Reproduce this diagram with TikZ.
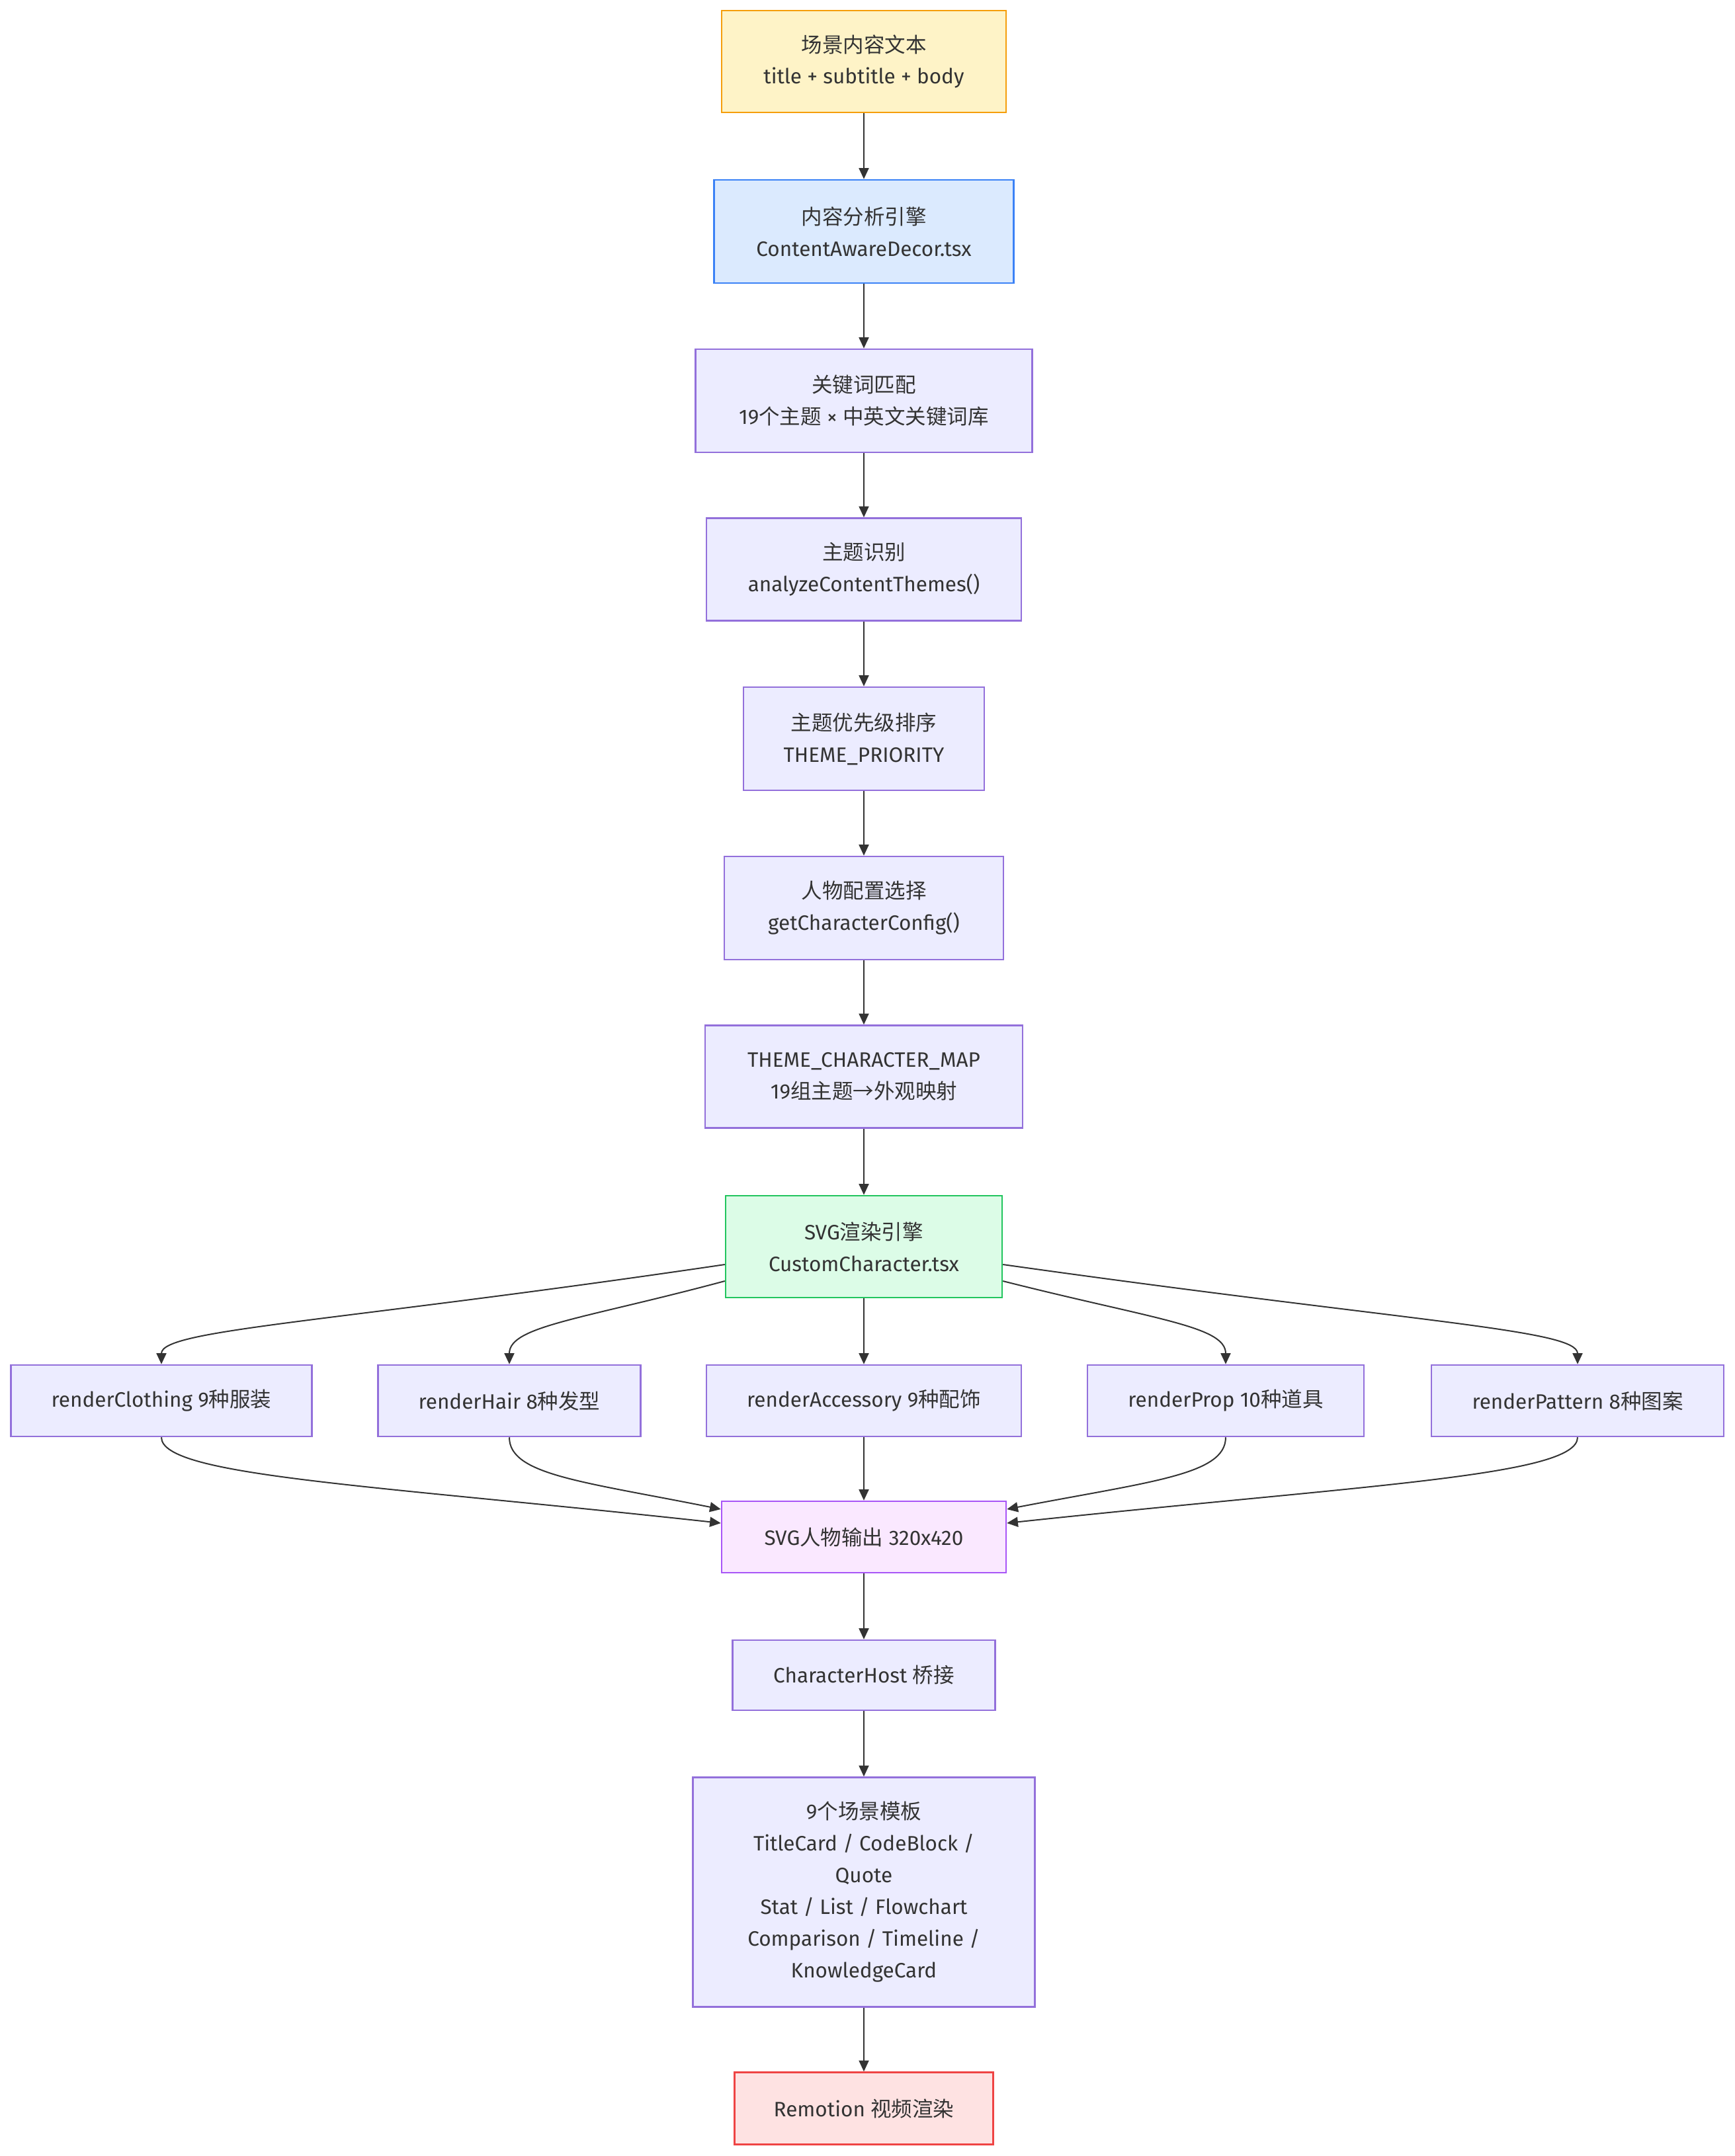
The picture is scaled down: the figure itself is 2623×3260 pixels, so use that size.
\documentclass[tikz,border=0pt]{standalone}
\usepackage{fontspec}
\setmainfont{Fira Sans}
\newfontfamily\cjk{Noto Sans CJK SC}
\usetikzlibrary{arrows.meta,calc}
\definecolor{txt}{HTML}{333333}
\definecolor{pfill}{HTML}{ECECFF}
\definecolor{pstroke}{HTML}{9370DB}
\definecolor{yfill}{HTML}{FEF3C7}
\definecolor{ystroke}{HTML}{F59E0B}
\definecolor{bfill}{HTML}{DBEAFE}
\definecolor{bstroke}{HTML}{3B82F6}
\definecolor{gfill}{HTML}{DCFCE7}
\definecolor{gstroke}{HTML}{22C55E}
\definecolor{vfill}{HTML}{FAE8FF}
\definecolor{vstroke}{HTML}{A855F7}
\definecolor{rfill}{HTML}{FEE2E2}
\definecolor{rstroke}{HTML}{EF4444}
\tikzset{
  base/.style={draw, line width=0.75pt, align=center, text=txt, inner sep=0pt,
    font=\fontsize{9.45pt}{14.4pt}\selectfont},
  sz/.style 2 args={minimum width=#1*0.3pt, minimum height=#2*0.3pt},
  pnode/.style={base, fill=pfill, draw=pstroke},
  ynode/.style={base, fill=yfill, draw=ystroke},
  bnode/.style={base, fill=bfill, draw=bstroke},
  gnode/.style={base, fill=gfill, draw=gstroke},
  vnode/.style={base, fill=vfill, draw=vstroke},
  rnode/.style={base, fill=rfill, draw=rstroke},
  arr/.style={draw=txt, line width=0.6pt, -{Triangle[length=5pt,width=4.5pt]}}
}
\begin{document}
\begin{tikzpicture}[x=0.3pt, y=-0.3pt]
\useasboundingbox[fill=white] (0,0) rectangle (2623,3260);
\node[ynode, sz={430}{154}] (n1) at (1306,93) {{\cjk 场景内容文本}\\title + subtitle + body};
\node[bnode, sz={453}{156}] (n2) at (1306,350) {{\cjk 内容分析引擎}\\ContentAwareDecor.tsx};
\node[pnode, sz={509}{156}] (n3) at (1306,606) {{\cjk 关键词匹配}\\19{\cjk 个主题} × {\cjk 中英文关键词库}};
\node[pnode, sz={476}{155}] (n4) at (1306,861) {{\cjk 主题识别}\\analyzeContentThemes()};
\node[pnode, sz={364}{156}] (n5) at (1306,1117) {{\cjk 主题优先级排序}\\THEME\_PRIORITY};
\node[pnode, sz={422}{156}] (n6) at (1306,1373) {{\cjk 人物配置选择}\\getCharacterConfig()};
\node[pnode, sz={480}{155}] (n7) at (1306,1628) {THEME\_CHARACTER\_MAP\\19{\cjk 组主题→外观映射}};
\node[gnode, sz={418}{154}] (n8) at (1306,1885) {SVG{\cjk 渲染引擎}\\CustomCharacter.tsx};
\node[pnode, sz={455}{108}] (c1) at (244,2118) {renderClothing 9{\cjk 种服装}};
\node[pnode, sz={397}{108}] (c2) at (770,2118) {renderHair 8{\cjk 种发型}};
\node[pnode, sz={476}{108}] (c3) at (1306,2118) {renderAccessory 9{\cjk 种配饰}};
\node[pnode, sz={418}{108}] (c4) at (1853,2118) {renderProp 10{\cjk 种道具}};
\node[pnode, sz={442}{108}] (c5) at (2385,2118) {renderPattern 8{\cjk 种图案}};
\node[vnode, sz={430}{108}] (n10) at (1306,2324) {SVG{\cjk 人物输出} 320x420};
\node[pnode, sz={397}{106}] (n11) at (1306,2533) {CharacterHost {\cjk 桥接}};
\node[pnode, sz={517}{347}] (n12) at (1306,2861) {9{\cjk 个场景模板}\\TitleCard / CodeBlock /\\Quote\\Stat / List / Flowchart\\Comparison / Timeline /\\KnowledgeCard};
\node[rnode, sz={391}{109}] (n13) at (1306,3188) {Remotion {\cjk 视频渲染}};
% straight edges
\draw[arr] (n1) -- (n2);
\draw[arr] (n2) -- (n3);
\draw[arr] (n3) -- (n4);
\draw[arr] (n4) -- (n5);
\draw[arr] (n5) -- (n6);
\draw[arr] (n6) -- (n7);
\draw[arr] (n7) -- (n8);
\draw[arr] (n8) -- (c3);
\draw[arr] (c3) -- (n10);
\draw[arr] (n10) -- (n11);
\draw[arr] (n11) -- (n12);
\draw[arr] (n12) -- (n13);
% fan out
\draw[arr] ($(n8.west)+(0,27)$) .. controls (500,2000) and (244,2010) .. (c1.north);
\draw[arr] ($(n8.west)+(0,52)$) .. controls (880,1995) and (770,2005) .. (c2.north);
\draw[arr] ($(n8.east)+(0,52)$) .. controls (1745,1995) and (1853,2005) .. (c4.north);
\draw[arr] ($(n8.east)+(0,27)$) .. controls (2140,2000) and (2385,2010) .. (c5.north);
% merge
\draw[arr] (c1.south) .. controls (244,2232) and (560,2245) .. ($(n10.west)+(0,-21)$);
\draw[arr] (c2.south) .. controls (770,2230) and (880,2240) .. ($(n10.west)+(0,-42)$);
\draw[arr] (c4.south) .. controls (1853,2230) and (1740,2240) .. ($(n10.east)+(0,-42)$);
\draw[arr] (c5.south) .. controls (2385,2232) and (2065,2245) .. ($(n10.east)+(0,-21)$);
\end{tikzpicture}
\end{document}
